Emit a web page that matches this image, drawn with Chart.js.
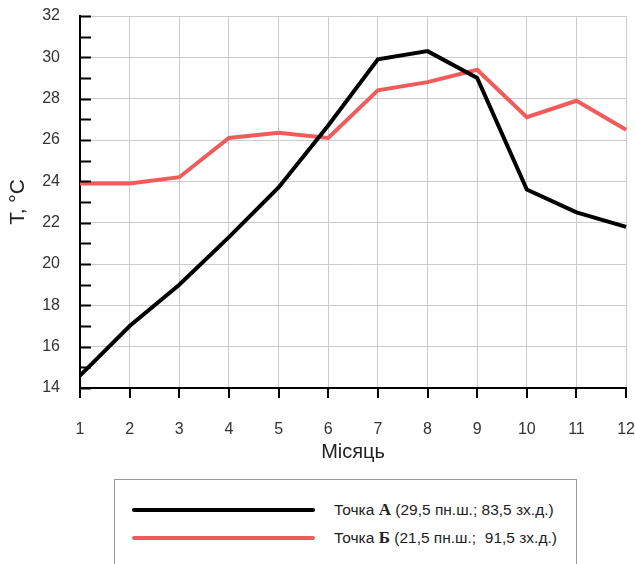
<!DOCTYPE html>
<html>
<head>
<meta charset="utf-8">
<script src="https://cdn.jsdelivr.net/npm/chart.js@4"></script>
<style>
    html, body { margin: 0; padding: 0; background: #fff; overflow: hidden; }
    #wrap { position: relative; width: 635px; height: 564px; }
    #temp-chart { position: absolute; left: 0; top: 0; }
    #legend {
        position: absolute; left: 114px; top: 479px; width: 463px; height: 110px;
        border: 1px solid #9a9a9a; box-sizing: border-box;
        font-family: Arial, "Liberation Sans", sans-serif; font-size: 15.5px; color: #222;
    }
    .row { position: absolute; left: 0; height: 20px; }
    .swatch { position: absolute; left: 17px; width: 183px; height: 4px; border-radius: 2px; }
    .label { position: absolute; left: 219px; white-space: pre; }
    .label b { font-family: "Liberation Serif", "DejaVu Serif", serif; font-size: 17px; }
</style>
</head>
<body>
<div id="wrap">
    <canvas id="temp-chart" width="635" height="464"></canvas>
    <div id="legend"></div>
</div>
<script>
const months = ['1', '2', '3', '4', '5', '6', '7', '8', '9', '10', '11', '12'];
const pointA = [14.6, 17.0, 19.0, 21.3, 23.7, 26.7, 29.9, 30.3, 29.0, 23.6, 22.5, 21.8];
const pointB = [23.9, 23.9, 24.2, 26.1, 26.35, 26.1, 28.4, 28.8, 29.4, 27.1, 27.9, 26.5];
const legendNames = ['Точка ', 'Точка '];
const legendLetters = ['А', 'Б'];
const legendCoords = ['(29,5 пн.ш.; 83,5 зх.д.)', '(21,5 пн.ш.;  91,5 зх.д.)'];
const yMin = 14;
const yMax = 32;

const FONT = 'Arial, "Liberation Sans", sans-serif';

// tick marks: inward on the y axis every 1 degree, outward under each month
const axisTicks = {
    id: 'axisTicks',
    afterDraw(chart) {
        const x = chart.scales.x;
        const y = chart.scales.y;
        const c = chart.ctx;
        c.save();
        c.strokeStyle = '#000';
        c.lineWidth = 2;
        for (let v = yMin; v <= yMax; v++) {
            const py = Math.round(y.getPixelForValue(v)) + 0.5;
            c.beginPath();
            c.moveTo(y.right, py);
            c.lineTo(y.right + 11, py);
            c.stroke();
        }
        for (let i = 0; i < months.length; i++) {
            const px = Math.round(x.getPixelForValue(i));
            c.beginPath();
            c.moveTo(px, x.top);
            c.lineTo(px, x.top + 10);
            c.stroke();
        }
        c.restore();
    }
};

const ctx = document.getElementById('temp-chart').getContext('2d');
const tempChart = new Chart(ctx, {
    type: 'line',
    data: {
        labels: months,
        datasets: [{
            label: legendNames[0] + legendLetters[0] + ' ' + legendCoords[0],
            data: pointA,
            borderColor: '#000000',
            borderWidth: 4,
            pointRadius: 0,
            tension: 0
        }, {
            label: legendNames[1] + legendLetters[1] + ' ' + legendCoords[1],
            data: pointB,
            borderColor: '#f05c5c',
            borderWidth: 4,
            pointRadius: 0,
            tension: 0
        }]
    },
    options: {
        responsive: false,
        animation: false,
        layout: { padding: { left: 0, right: 8, top: 16, bottom: 0 } },
        plugins: {
            legend: { display: false },
            tooltip: { enabled: false }
        },
        scales: {
            x: {
                offset: false,
                grid: {
                    color: '#cccccc',
                    lineWidth: 1,
                    drawTicks: true,
                    tickLength: 32,
                    tickColor: 'rgba(0,0,0,0)'
                },
                border: { color: '#000', width: 2 },
                ticks: { color: '#333', font: { family: FONT, size: 16 }, padding: 0, maxRotation: 0 },
                title: {
                    display: true,
                    text: 'Місяць',
                    color: '#222',
                    font: { family: FONT, size: 20 },
                    padding: { top: 0, bottom: 0 }
                },
                afterFit(scale) { scale.height = 464 - 388; }
            },
            y: {
                min: yMin,
                max: yMax,
                ticks: { stepSize: 2, color: '#333', font: { family: FONT, size: 16 }, padding: 0 },
                grid: { color: '#cccccc', lineWidth: 1, drawTicks: true, tickLength: 20, tickColor: 'rgba(0,0,0,0)' },
                border: { color: '#000', width: 2 },
                title: {
                    display: true,
                    text: 'T, °C',
                    color: '#222',
                    font: { family: FONT, size: 21 },
                    padding: { top: 6, bottom: 0 }
                },
                afterFit(scale) { scale.width = 80; }
            }
        }
    },
    plugins: [axisTicks]
});

// legend built from the chart's datasets
const legendBox = document.getElementById('legend');
tempChart.data.datasets.forEach((ds, i) => {
    const row = document.createElement('div');
    row.className = 'row';
    row.style.top = (i === 0 ? 20 : 48) + 'px';
    const sw = document.createElement('div');
    sw.className = 'swatch';
    sw.style.background = ds.borderColor;
    sw.style.top = '8px';
    const lab = document.createElement('div');
    lab.className = 'label';
    lab.style.top = '0px';
    lab.appendChild(document.createTextNode(legendNames[i]));
    const b = document.createElement('b');
    b.textContent = legendLetters[i];
    lab.appendChild(b);
    lab.appendChild(document.createTextNode(' ' + legendCoords[i]));
    row.appendChild(sw);
    row.appendChild(lab);
    legendBox.appendChild(row);
});
</script>
</body>
</html>
